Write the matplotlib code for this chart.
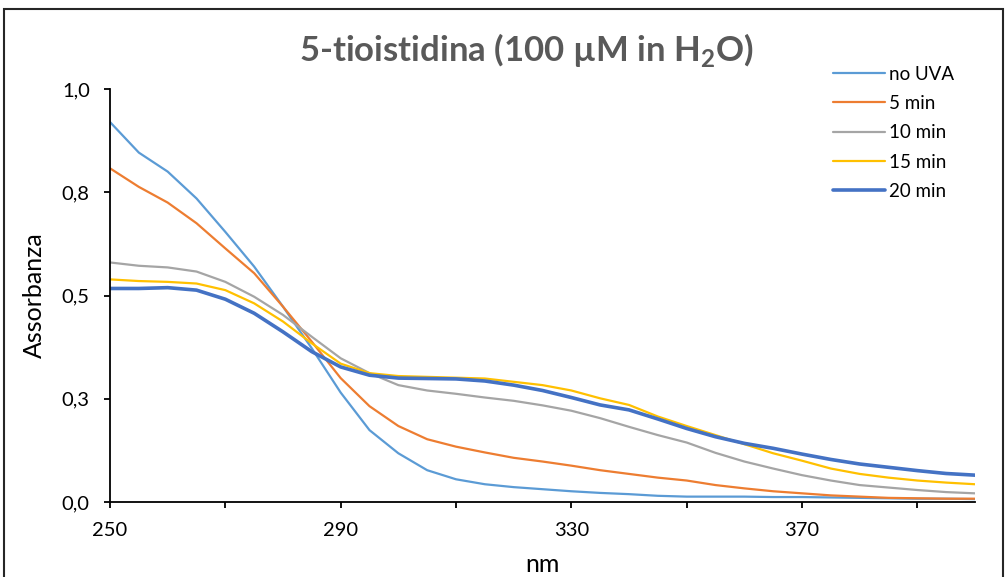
"""UV-vis spectra of 5-tioistidina under UVA irradiation."""

import matplotlib
matplotlib.use("Agg")
import matplotlib.pyplot as plt
from matplotlib.patches import Rectangle
from matplotlib.ticker import FixedLocator, NullFormatter

plt.rcParams["font.family"] = ["Lato", "DejaVu Sans"]
plt.rcParams["mathtext.fontset"] = "custom"
plt.rcParams["mathtext.rm"] = "Lato"
plt.rcParams["mathtext.bf"] = "Lato:bold"

# wavelengths (nm), read every 5 nm
wavelength = list(range(250, 401, 5))

no_uva = [0.920, 0.846, 0.800, 0.735, 0.654, 0.570, 0.473, 0.372, 0.265, 0.174,
          0.118, 0.077, 0.055, 0.043, 0.036, 0.031, 0.026, 0.022, 0.019, 0.015,
          0.013, 0.013, 0.013, 0.012, 0.012, 0.011, 0.010, 0.009, 0.008, 0.008,
          0.007]
min_5 = [0.808, 0.763, 0.725, 0.675, 0.614, 0.554, 0.473, 0.388, 0.300, 0.232,
         0.184, 0.152, 0.134, 0.120, 0.107, 0.098, 0.088, 0.077, 0.068, 0.059,
         0.052, 0.041, 0.033, 0.026, 0.021, 0.016, 0.013, 0.010, 0.009, 0.008,
         0.008]
min_10 = [0.580, 0.572, 0.568, 0.558, 0.533, 0.497, 0.453, 0.400, 0.348, 0.312,
          0.283, 0.270, 0.262, 0.253, 0.245, 0.234, 0.221, 0.203, 0.182, 0.162,
          0.144, 0.119, 0.098, 0.081, 0.065, 0.052, 0.041, 0.035, 0.029, 0.024,
          0.021]
min_15 = [0.539, 0.535, 0.533, 0.529, 0.513, 0.481, 0.437, 0.384, 0.335, 0.312,
          0.305, 0.303, 0.301, 0.299, 0.291, 0.283, 0.270, 0.251, 0.235, 0.207,
          0.184, 0.162, 0.140, 0.118, 0.100, 0.081, 0.068, 0.059, 0.052, 0.047,
          0.043]
min_20 = [0.517, 0.517, 0.519, 0.513, 0.491, 0.457, 0.412, 0.364, 0.327, 0.307,
          0.300, 0.299, 0.298, 0.293, 0.283, 0.270, 0.253, 0.235, 0.223, 0.201,
          0.178, 0.158, 0.142, 0.130, 0.116, 0.103, 0.092, 0.084, 0.076, 0.069,
          0.065]

series_labels = ["no UVA", "5 min", "10 min", "15 min", "20 min"]
series_colors = ["#5B9BD5", "#ED7D31", "#A5A5A5", "#FFC000", "#4472C4"]
series_widths = [1.6, 1.6, 1.6, 1.6, 2.6]

x_labelled = [250, 290, 330, 370]
x_unlabelled = [270, 310, 350, 390]
y_ticks = [0.0, 0.25, 0.5, 0.75, 1.0]
y_tick_labels = ["0,0", "0,3", "0,5", "0,8", "1,0"]

W, H = 1006, 577
fig = plt.figure(figsize=(W / 100, H / 100), dpi=100)
ax = fig.add_axes([110 / W, 1 - 502 / H, 865 / W, 413 / H])

for ys, lab, col, lw in zip([no_uva, min_5, min_10, min_15, min_20],
                            series_labels, series_colors, series_widths):
    ax.plot(wavelength, ys, color=col, lw=lw, label=lab,
            solid_capstyle="round", solid_joinstyle="round")

ax.set_xlim(250, 400)
ax.set_ylim(0, 1.0)
ax.set_xticks(x_labelled)
ax.xaxis.set_minor_locator(FixedLocator(x_unlabelled))
ax.xaxis.set_minor_formatter(NullFormatter())
ax.set_yticks(y_ticks)
ax.set_yticklabels(y_tick_labels)

for side in ("top", "right"):
    ax.spines[side].set_visible(False)
for side in ("left", "bottom"):
    ax.spines[side].set_linewidth(1.3)
    ax.spines[side].set_color("black")
ax.tick_params(axis="both", which="both", direction="out", length=4.5,
               width=1.3, colors="black", labelsize=14.5)
ax.tick_params(axis="x", which="both", pad=10)
ax.tick_params(axis="y", pad=10)

ax.set_xlabel("nm", fontsize=18, va="center")
ax.xaxis.set_label_coords(0.5, -(564 - 502) / 413)
ax.set_ylabel("Assorbanza", fontsize=18, va="center")
ax.yaxis.set_label_coords((34 - 110) / 865, 0.5)

fig.text(527 / W, 1 - 50 / H, r"5-tioistidina (100 µM in H$_\mathbf{2}$O)",
         ha="center", va="center", fontsize=25, fontweight="bold",
         color="#595959")

fig.legend(loc="upper left", bbox_to_anchor=(825 / W, 1 - 58 / H),
           frameon=False, fontsize=13.5, handlelength=2.8, handletextpad=0.2,
           labelspacing=0.66, borderaxespad=0)

fig.patches.append(Rectangle((4 / W, -0.02), 999 / W, 1.02 - 9 / H,
                             transform=fig.transFigure, fill=False,
                             edgecolor="#262626", lw=1.5))

fig.savefig("out.png", dpi=100)
